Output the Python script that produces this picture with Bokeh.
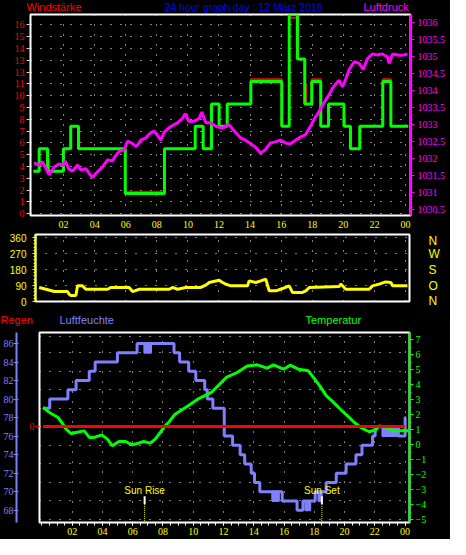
from bokeh.plotting import figure
from bokeh.models import Range1d, LinearAxis, FixedTicker
from bokeh.layouts import column
from bokeh.embed import file_html
from bokeh.resources import INLINE
from bokeh.core.properties import value

# ---------------- data ----------------
hour_ticks = [2, 4, 6, 8, 10, 12, 14, 16, 18, 20, 22, 24]
hour_labels = ["02", "04", "06", "08", "10", "12", "14", "16", "18", "20", "22", "00"]

wind_ticks = [0, 1, 2, 3, 4, 5, 6, 7, 8, 9, 10, 11, 12, 13, 14, 15, 16]
wind_labels = ["0", "1", "2", "3", "4", "5", "6", "7", "8", "9", "10", "11", "13", "13", "14", "15", "16"]
press_ticks = [1030.5, 1031, 1031.5, 1032, 1032.5, 1033, 1033.5, 1034, 1034.5, 1035, 1035.5, 1036]
press_labels = ["1030.5", "1031", "1031.5", "1032", "1032.5", "1033", "1033.5", "1034", "1034.5", "1035", "1035.5", "1036"]

# wind (average) and gust steps: hour of change, value
wind_t = [0.06, 0.43, 0.97, 1.99, 2.46, 2.96, 5.97, 8.49, 10.47, 10.98, 11.52, 12.01, 12.53, 14.05,
          16.04, 16.52, 17.05, 17.52, 17.97, 18.55, 19.05, 20.04, 20.46, 21.06, 22.54, 23.06, 24.18]
wind_v = [3.6, 5.5, 3.6, 5.5, 7.4, 5.5, 1.7, 5.5, 7.4, 5.5, 9.3, 7.4, 9.3, 11.2,
          7.4, 16.9, 13.1, 9.3, 11.2, 7.4, 9.3, 7.4, 5.5, 7.4, 11.2, 7.4, 7.4]
gust_t = [0.06, 0.43, 0.97, 1.03, 1.07, 1.99, 2.46, 2.96, 3.01, 5.97, 8.49, 10.47, 10.98, 11.52, 12.01,
          12.53, 14.05, 16.04, 16.52, 17.05, 17.52, 17.59, 17.62, 17.97, 18.55, 19.05, 20.04, 20.08,
          20.46, 21.06, 22.54, 23.06, 24.18]
gust_v = [3.6, 5.5, 3.6, 4.6, 3.6, 5.5, 7.4, 6.3, 5.5, 1.85, 5.5, 7.4, 5.5, 9.3, 7.4,
          9.3, 11.4, 7.4, 16.6, 13.1, 9.3, 11.0, 9.3, 11.4, 7.4, 9.3, 8.2, 7.4,
          5.5, 7.4, 11.4, 7.4, 7.4]

# air pressure (hPa)
press_t = [0.1, 0.43, 0.64, 0.97, 1.07, 1.4, 1.72, 2.0, 2.1, 2.32, 2.57, 2.9, 3.11, 3.43, 3.65, 3.86,
           4.08, 4.29, 4.5, 4.83, 5.15, 5.32, 5.58, 5.9, 6.11, 6.44, 6.69, 6.97, 7.3, 7.51, 7.83, 8.04,
           8.26, 8.47, 8.8, 9.12, 9.33, 9.65, 9.82, 10.07, 10.4, 10.72, 10.9, 11.15, 11.48, 11.8, 12.22,
           12.63, 13.06, 13.38, 13.7, 14.03, 14.35, 14.67, 14.99, 15.31, 15.63, 15.95, 16.28, 16.6,
           16.92, 17.24, 17.56, 17.89, 18.1, 18.42, 18.77, 19.09, 19.3, 19.52, 19.73, 19.95, 20.16,
           20.38, 20.7, 21.02, 21.28, 21.56, 21.88, 22.2, 22.52, 22.84, 22.95, 23.17, 23.6, 23.92, 24.13]
press_v = [1031.88, 1031.81, 1031.92, 1031.62, 1031.53, 1031.76, 1031.85, 1031.81, 1031.94, 1031.71,
           1031.64, 1031.82, 1031.67, 1031.71, 1031.57, 1031.45, 1031.57, 1031.67, 1031.76, 1031.97,
           1031.94, 1032.08, 1032.22, 1032.27, 1032.52, 1032.45, 1032.36, 1032.55, 1032.62, 1032.73,
           1032.82, 1032.69, 1032.55, 1032.78, 1032.92, 1033.01, 1033.06, 1033.19, 1033.33, 1033.10,
           1033.11, 1033.19, 1033.38, 1033.06, 1033.06, 1032.96, 1032.90, 1033.01, 1032.78, 1032.62,
           1032.55, 1032.45, 1032.34, 1032.17, 1032.27, 1032.47, 1032.50, 1032.55, 1032.47, 1032.44,
           1032.55, 1032.64, 1032.71, 1032.96, 1033.15, 1033.38, 1033.66, 1033.89, 1034.07, 1034.21,
           1034.31, 1034.12, 1034.35, 1034.63, 1034.86, 1034.81, 1034.63, 1034.95, 1035.09, 1035.06,
           1035.09, 1035.00, 1034.81, 1035.09, 1035.05, 1035.06, 1035.09]

# wind direction (degrees)
dir_ticks = [0, 90, 180, 270, 360]
dir_letters = ["N", "O", "S", "W", "N"]
dir_t = [0.43, 0.86, 1.40, 2.25, 2.36, 2.47, 2.79, 2.9, 3.22, 3.43, 4.83, 5.04, 6.22, 6.44, 6.87, 8.80,
         9.01, 9.33, 9.87, 10.83, 11.15, 11.37, 12.01, 12.23, 12.44, 12.76, 13.84, 13.94, 14.37, 14.69,
         15.01, 15.23, 15.66, 16.09, 16.52, 16.73, 17.37, 17.59, 17.81, 19.74, 19.84, 20.16, 21.67,
         21.88, 22.31, 22.73, 23.06, 23.17, 24.13]
dir_v = [79, 69, 56, 56, 41, 34, 34, 88, 88, 69, 69, 79, 79, 56, 69, 69,
         79, 69, 79, 79, 92, 107, 120, 107, 98, 88, 88, 116, 107, 116,
         126, 60, 60, 73, 88, 51, 51, 60, 79, 84, 98, 69, 69,
         88, 98, 110, 107, 88, 88]

# humidity (%)
hum_ticks = [68, 70, 72, 74, 76, 78, 80, 82, 84, 86]
hum_t = [0.08, 0.52, 1.72, 2.26, 3.13, 3.52, 4.99, 6.29, 8.73, 9.1, 9.7, 10.17, 10.76, 10.93, 11.3,
         12.05, 12.6, 13.1, 13.4, 13.83, 14.05, 14.4, 15.88, 16.86, 17.25, 18.06, 18.78, 19.45, 20.1,
         20.75, 21.15, 21.85, 22.02, 23.55, 24.0, 24.05]
hum_v = [79, 80, 81, 82, 83, 84, 85, 86, 85, 84, 83, 82, 81, 80, 79,
         76, 75, 74, 73, 72, 71, 70, 69, 68, 69, 70, 71, 72, 73,
         74, 75, 76, 77, 76, 78, 78]
# short periods where humidity flickered between two values
flick_start = [6.77, 15.22, 17.41, 18.27, 22.5]
flick_end = [7.21, 15.66, 17.73, 18.49, 23.55]
flick_low = [85, 69, 68, 69, 76]
flick_high = [86, 70, 69, 70, 77]

# temperature (deg C)
temp_ticks = [-5, -4, -3, -2, -1, 0, 1, 2, 3, 4, 5, 6, 7]
temp_t = [0.08, 0.5, 1.07, 1.4, 1.6, 1.93, 2.26, 2.8, 3.13, 3.46, 3.96, 4.33, 4.66, 5.09, 5.53, 5.97,
          6.4, 6.73, 7.16, 7.49, 7.82, 8.14, 8.4, 8.8, 9.67, 10.3, 11.2, 12.18, 12.9, 13.57, 14.22,
          14.88, 15.3, 15.97, 16.4, 16.95, 17.6, 18.03, 18.36, 18.8, 19.24, 19.67, 20.2, 20.65, 21.08,
          21.63, 22.07, 22.28, 22.83, 23.16, 24.2]
temp_v = [2.47, 2.13, 1.8, 1.35, 1.02, 0.73, 0.8, 0.91, 0.47, 0.47, 0.64, 0.36, -0.09, 0.2, 0.2, -0.02,
          0.09, 0.2, 0.09, 0.36, 0.8, 1.24, 1.5, 2.02, 2.58, 3.02, 3.47, 4.47, 4.8, 5.24, 5.31,
          5.09, 5.31, 5.02, 5.29, 5.02, 4.91, 4.36, 3.91, 3.24, 2.84, 2.4, 1.91, 1.47, 1.13,
          0.85, 0.98, 1.24, 1.13, 0.91, 0.91]

# rain (mm)
rain_t = [0.08, 24.0]
rain_v = [0, 0]

sun_events = ["Sun Rise", "Sun Set"]
sun_times = [6.79, 18.50]

top_titles = ["Windstärke", "24 hour graph day : 12 März 2016", "Luftdruck"]
low_titles = ["Regen", "Luftfeuchte", "Temperatur"]

# ---------------- styling ----------------
W = 450
FONT = "Liberation Sans"
TFONT = "Liberation Sans Narrow"
WHITE = "#ffffff"
YELLOW = "#ffff00"
RED = "#ff0000"
GREEN = "#00ff00"
MAGENTA = "#ff00ff"
BLUE = "#0000ff"
HUM = "#8080ff"


def make_fig(height, xr, yr, left, right, top, bottom):
    p = figure(width=W, height=height, x_range=xr, y_range=yr,
               x_axis_location=None, y_axis_location=None,
               output_backend="svg", toolbar_location=None,
               min_border_left=left, min_border_right=right,
               min_border_top=top, min_border_bottom=bottom)
    p.frame_align = False
    p.styles = {"background-color": "black"}
    p.background_fill_color = "black"
    p.border_fill_color = "black"
    p.outline_line_color = WHITE
    p.outline_line_width = 2
    p.grid.grid_line_color = WHITE
    p.grid.grid_line_dash = "1 9"
    p.grid.grid_line_width = 1
    return p


def make_strip(height, texts, xs, colors, sizes, ymid):
    s = figure(width=W, height=height, x_range=Range1d(0, W), y_range=Range1d(0, height),
               x_axis_location=None, y_axis_location=None,
               output_backend="svg", toolbar_location=None,
               min_border_left=0, min_border_right=0, min_border_top=0, min_border_bottom=0)
    s.frame_align = False
    s.styles = {"background-color": "black"}
    s.background_fill_color = "black"
    s.border_fill_color = "black"
    s.outline_line_color = None
    s.grid.visible = False
    for t, x, c, fs in zip(texts, xs, colors, sizes):
        s.text(x=[x], y=[ymid], text=[t], text_color=c, text_font=value(FONT),
               text_font_size=fs, text_align="left", text_baseline="middle")
    return s


def make_axis(ticks, labels, color, tick_color=None, size="10px", font=TFONT, tick_out=4,
              standoff=2, minor=None, minor_out=2, line=None, range_name=None, tick_in=0):
    kw = {}
    if range_name:
        kw["y_range_name"] = range_name
    ax = LinearAxis(ticker=FixedTicker(ticks=ticks, minor_ticks=minor or []), **kw)
    if labels is not None:
        ax.major_label_overrides = dict(zip(ticks, labels))
    tc = tick_color or color
    ax.major_label_text_color = color
    ax.major_label_text_font = font
    ax.major_label_text_font_size = size
    ax.major_label_standoff = standoff
    ax.major_tick_line_color = tc if (tick_out or tick_in) else None
    ax.major_tick_out = tick_out
    ax.major_tick_in = tick_in
    ax.minor_tick_line_color = tc
    ax.minor_tick_out = minor_out
    ax.minor_tick_in = 0
    ax.axis_line_color = line
    ax.axis_line_width = 2
    return ax


# ---------- title strip above panel 1 ----------
s1 = make_strip(13, top_titles, [26, 164, 363], [RED, BLUE, MAGENTA], ["11px", "10.5px", "11px"], 6.5)

# ---------- panel 1: wind speed + pressure ----------
p1 = make_fig(220, Range1d(-0.129, 24.324), Range1d(-0.16, 16.88), 30, 40, 1, 18)
p1.extra_y_ranges = {"press": Range1d(1030.333, 1036.25)}
p1.xgrid.ticker = FixedTicker(ticks=hour_ticks)
p1.ygrid.ticker = FixedTicker(ticks=wind_ticks)

p1.add_layout(make_axis(wind_ticks, wind_labels, RED, tick_color="#d0d0d0", tick_out=4, standoff=2), "left")
press_minor = [1030.4 + 0.1 * i for i in range(60)]
p1.add_layout(make_axis(press_ticks, press_labels, MAGENTA, tick_out=4, standoff=3,
                        minor=press_minor, minor_out=2, line=MAGENTA, range_name="press"), "right")
p1.add_layout(make_axis(hour_ticks, hour_labels, YELLOW, tick_out=0, standoff=5), "below")

p1.step(gust_t, gust_v, mode="after", line_color=RED, line_width=2)
p1.step(wind_t, wind_v, mode="after", line_color=GREEN, line_width=3)
p1.line(press_t, press_v, y_range_name="press", line_color=MAGENTA, line_width=3)

# ---------- panel 2: wind direction ----------
p2 = make_fig(74, Range1d(0.193, 24.26), Range1d(0, 376.9), 35, 41, 1, 6)
p2.xgrid.ticker = FixedTicker(ticks=hour_ticks)
p2.ygrid.ticker = FixedTicker(ticks=dir_ticks)
dir_minor = [18 * i for i in range(21)]
p2.add_layout(make_axis(dir_ticks, None, YELLOW, font=FONT, size="10px", tick_out=3, standoff=6,
                        minor=dir_minor, minor_out=2, line=YELLOW), "left")
p2.add_layout(make_axis(dir_ticks, dir_letters, YELLOW, font=FONT, size="12px", tick_out=0,
                        standoff=19), "right")
p2.line(dir_t, dir_v, line_color=YELLOW, line_width=3)

# ---------- title strip above panel 3 ----------
s3 = make_strip(23, low_titles, [0, 59, 305], [RED, HUM, GREEN], ["11px", "11px", "11px"], 11)

# ---------- panel 3: humidity, temperature, rain ----------
p3 = make_fig(209, Range1d(-0.157, 24.29), Range1d(66.67, 87.19), 35, 41, 2, 17)
p3.extra_y_ranges = {"temp": Range1d(-5.2, 7.467), "rain": Range1d(-1.01, 0.99)}
p3.xgrid.ticker = FixedTicker(ticks=hour_ticks)
p3.ygrid.ticker = FixedTicker(ticks=[67, 69, 71, 73, 75, 77, 79, 81, 83, 85, 86.8])

rain_ax = make_axis([0], ["0"], RED, tick_out=4, standoff=1, range_name="rain")
rain_ax.axis_label = " "
rain_ax.axis_label_text_font_size = "4px"
rain_ax.axis_label_standoff = 2
p3.add_layout(rain_ax, "left")
hum_minor = [67 + i for i in range(21)]
p3.add_layout(make_axis(hum_ticks, None, HUM, tick_out=3, tick_in=2, standoff=0,
                        minor=hum_minor, minor_out=0, line=HUM), "left")
temp_minor = [-5.5 + 0.5 * i for i in range(27)]
p3.add_layout(make_axis(temp_ticks, None, GREEN, tick_out=4, standoff=2,
                        minor=temp_minor, minor_out=2, line=GREEN, range_name="temp"), "right")
half_hours = [0.5 * i for i in range(49)]
p3.add_layout(make_axis(hour_ticks, hour_labels, YELLOW, tick_color=WHITE, tick_out=3, standoff=2,
                        minor=half_hours, minor_out=3), "below")

p3.step(hum_t, hum_v, mode="after", line_color=HUM, line_width=3)
p3.quad(left=flick_start, right=flick_end, bottom=flick_low, top=flick_high,
        fill_color=HUM, line_color=HUM, line_width=2)
p3.line(temp_t, temp_v, y_range_name="temp", line_color=GREEN, line_width=3)
p3.line(rain_t, rain_v, y_range_name="rain", line_color=RED, line_width=3)

p3.segment(x0=sun_times, y0=[69.51, 69.51], x1=sun_times, y1=[68.65, 68.65],
           line_color=WHITE, line_width=2)
p3.segment(x0=sun_times, y0=[68.65, 68.65], x1=sun_times, y1=[66.67, 66.67],
           line_color=YELLOW, line_width=1, line_dash="1 1")
p3.text(x=sun_times, y=[70.16, 70.16], text=sun_events, text_color=YELLOW,
        text_font=value(FONT), text_font_size="10px", text_align="center", text_baseline="middle")

layout = column(s1, p1, p2, s3, p3, spacing=0, styles={"background-color": "black"})
open("out.html", "w").write(file_html(layout, INLINE))
